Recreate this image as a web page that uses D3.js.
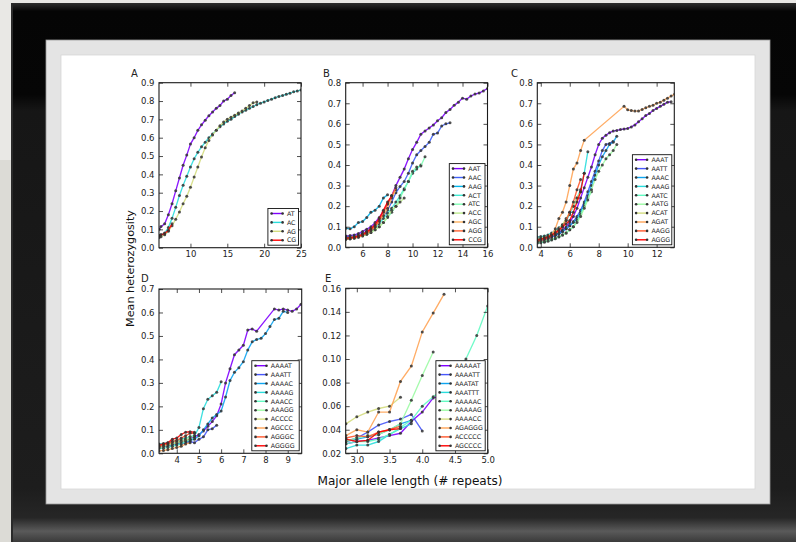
<!DOCTYPE html>
<html><head><meta charset="utf-8">
<script src="https://cdn.jsdelivr.net/npm/d3@7"></script>
<style>
body{margin:0;background:#e8e7e3;}
svg{display:block;font-family:"DejaVu Sans",sans-serif;}
</style>
</head><body>
<svg id="fig" width="796" height="542"></svg>
<script>
// ---- Panel A: dinucleotides ----
const motifsA = ["AT", "AC", "AG", "CG"];
const xA = [5.75, 6, 6.5, 7, 7.5, 8, 8.5, 9, 9.5, 10, 10.5, 11, 11.5, 12, 12.5, 13, 13.5, 14, 14.5, 15,
            15.5, 16, 16.5, 17, 17.5, 18, 18.5, 19, 19.5, 20, 20.5, 21, 21.5, 22, 22.5, 23, 23.5, 24, 24.5, 25];
const yA_AT = [0.10, 0.115, 0.13, 0.18, 0.24, 0.31, 0.38, 0.45, 0.505, 0.565, 0.60, 0.64, 0.67, 0.695, 0.72, 0.74, 0.76, 0.775, 0.80, 0.81, 0.83, 0.845];
const yA_AC = [0.065, 0.07, 0.08, 0.11, 0.16, 0.22, 0.285, 0.34, 0.39, 0.44, 0.485, 0.52, 0.55, 0.575, 0.60, 0.62, 0.64, 0.66, 0.675, 0.69,
               0.70, 0.715, 0.728, 0.74, 0.75, 0.76, 0.77, 0.78, 0.788, 0.795, 0.803, 0.81, 0.818, 0.825, 0.83, 0.837, 0.843, 0.85, 0.855, 0.86];
const yA_AG = [0.055, 0.06, 0.07, 0.09, 0.12, 0.155, 0.195, 0.24, 0.28, 0.33, 0.385, 0.44, 0.495, 0.545, 0.585, 0.615, 0.64, 0.665, 0.685, 0.70,
               0.712, 0.722, 0.735, 0.745, 0.76, 0.775, 0.79, 0.795];
const yA_CG = [0.065, 0.07, 0.078, 0.095, 0.13];
const xTicksA = [10, 15, 20, 25];
const yTicksA = [0, 0.1, 0.2, 0.3, 0.4, 0.5, 0.6, 0.7, 0.8, 0.9];

// ---- Panel B: trinucleotides ----
const motifsB = ["AAT", "AAC", "AAG", "ACT", "ATC", "ACC", "AGC", "AGG", "CCG"];
const xB = [4.667, 5, 5.333, 5.667, 6, 6.333, 6.667, 7, 7.333, 7.667, 8, 8.333, 8.667, 9, 9.333, 9.667, 10, 10.333, 10.667, 11,
            11.333, 11.667, 12, 12.333, 12.667, 13, 13.333, 13.667, 14, 14.333, 14.667, 15, 15.333, 15.667, 16];
const yB_AAT = [0.055, 0.057, 0.06, 0.067, 0.077, 0.088, 0.10, 0.12, 0.145, 0.175, 0.21, 0.25, 0.30, 0.34, 0.38, 0.43, 0.475, 0.51, 0.55, 0.565,
                0.58, 0.595, 0.615, 0.63, 0.655, 0.67, 0.69, 0.705, 0.725, 0.72, 0.735, 0.745, 0.75, 0.76, 0.772];
const yB_AAC = [0.05, 0.052, 0.055, 0.06, 0.068, 0.078, 0.09, 0.105, 0.125, 0.15, 0.18, 0.22, 0.265, 0.295, 0.32, 0.36, 0.41, 0.45, 0.47, 0.49,
                0.51, 0.55, 0.555, 0.59, 0.60, 0.605];
const yB_AAG = [0.092, 0.09, 0.10, 0.12, 0.125, 0.145, 0.17, 0.18, 0.20, 0.24, 0.255];
const yB_ACT = [0.045, 0.047, 0.05, 0.055, 0.062, 0.07, 0.08, 0.095, 0.115, 0.14, 0.165, 0.19, 0.22, 0.25, 0.285, 0.32, 0.36, 0.38, 0.40];
const yB_ATC = [0.04, 0.042, 0.045, 0.05, 0.056, 0.063, 0.072, 0.085, 0.10, 0.12, 0.145, 0.17, 0.20, 0.24, 0.28, 0.32, 0.37, 0.39, 0.395, 0.44];
const yB_ACC = [0.04, 0.042, 0.045, 0.05, 0.055, 0.063, 0.072, 0.085, 0.10, 0.12, 0.15, 0.18, 0.20, 0.22, 0.24];
const yB_AGC = [0.045, 0.047, 0.05, 0.055, 0.062, 0.072, 0.085, 0.10, 0.125, 0.155, 0.19, 0.24, 0.28];
const yB_AGG = [0.04, 0.042, 0.045, 0.05, 0.058, 0.068, 0.082, 0.10, 0.13, 0.17, 0.21, 0.25, 0.29];
const yB_CCG = [0.045, 0.047, 0.05, 0.055, 0.063, 0.075, 0.09, 0.11, 0.14, 0.18, 0.22, 0.25];
const xTicksB = [6, 8, 10, 12, 14, 16];
const yTicksB = [0, 0.1, 0.2, 0.3, 0.4, 0.5, 0.6, 0.7, 0.8];

// ---- Panel C: tetranucleotides ----
const motifsC = ["AAAT", "AATT", "AAAC", "AAAG", "AATC", "AATG", "ACAT", "AGAT", "AAGG", "AGGG"];
const xC = [3.75, 4, 4.25, 4.5, 4.75, 5, 5.25, 5.5, 5.75, 6, 6.25, 6.5, 6.75, 7, 7.25, 7.5, 7.75, 8, 8.25, 8.5,
            8.75, 9, 9.25, 9.5, 9.75, 10, 10.25, 10.5, 10.75, 11, 11.25, 11.5, 11.75, 12, 12.25, 12.5, 12.75, 13, 13.25];
const yC_AAAT = [0.03, 0.032, 0.038, 0.045, 0.052, 0.06, 0.07, 0.085, 0.10, 0.12, 0.15, 0.19, 0.24, 0.29, 0.34, 0.39, 0.45, 0.50, 0.53, 0.545,
                 0.557, 0.565, 0.568, 0.572, 0.575, 0.578, 0.585, 0.595, 0.61, 0.625, 0.64, 0.65, 0.665, 0.675, 0.685, 0.695, 0.705, 0.707];
const yC_AATT = [0.035, 0.037, 0.04, 0.045, 0.05, 0.057, 0.065, 0.075, 0.09, 0.105, 0.125, 0.15, 0.18, 0.22, 0.27, 0.32, 0.37, 0.42, 0.47, 0.50, 0.505, 0.515];
const yC_AAAC = [0.04, 0.042, 0.045, 0.05, 0.055, 0.06, 0.068, 0.078, 0.09, 0.105, 0.12, 0.14, 0.17, 0.21, 0.25, 0.30, 0.35, 0.40, 0.44, 0.47, 0.50, 0.51, 0.54];
const yC_AAAG = [0.05, 0.052, 0.055, 0.06, 0.07, 0.08, 0.095, 0.11, 0.13, 0.16, 0.20, 0.24, 0.28, 0.36, 0.465];
const yC_AATC = [0.02, 0.022, 0.025, 0.03, 0.035, 0.042, 0.05, 0.06, 0.07, 0.085, 0.10, 0.13, 0.16, 0.20, 0.24, 0.27];
const yC_AATG = [0.025, 0.028, 0.03, 0.035, 0.04, 0.045, 0.052, 0.06, 0.07, 0.085, 0.10, 0.12, 0.15, 0.19, 0.23, 0.28, 0.33, 0.37, 0.40, 0.43, 0.45, 0.47, 0.50];
const yC_ACAT = [0.04, 0.045, 0.05, 0.055, 0.065, 0.075, 0.09, 0.11, 0.14, 0.17, 0.20, 0.24, 0.27];
const yC_AGAT = [0.03, 0.035, 0.04, 0.05, 0.06, 0.09, 0.14, 0.17, 0.22, 0.30, 0.38, 0.41, 0.47, 0.52,
                 null, null, null, null, null, null, null, null, null, null,
                 0.685, 0.668, 0.665, 0.662, 0.662, 0.67, 0.678, 0.685, 0.69, 0.70, 0.705, 0.715, 0.725, 0.735, 0.745];
const yC_AAGG = [0.03, 0.035, 0.04, 0.045, 0.055, 0.065, 0.08, 0.10, 0.13, 0.17, 0.22, 0.28, 0.33];
const yC_AGGG = [0.035, 0.04, 0.045, 0.05, 0.06, 0.07, 0.085, 0.10, 0.115, 0.13, 0.17, 0.22, 0.27, 0.36];
const xTicksC = [4, 6, 8, 10, 12];
const yTicksC = [0, 0.1, 0.2, 0.3, 0.4, 0.5, 0.6, 0.7, 0.8];

// ---- Panel D: pentanucleotides ----
const motifsD = ["AAAAT", "AAATT", "AAAAC", "AAAAG", "AAACC", "AAAGG", "ACCCC", "AGCCC", "AGGGC", "AGGGG"];
const xD = [3.2, 3.4, 3.6, 3.8, 4, 4.2, 4.4, 4.6, 4.8, 5, 5.2, 5.4, 5.6, 5.8, 6, 6.2, 6.4, 6.6, 6.8, 7,
            7.2, 7.4, 7.6, 7.8, 8, 8.2, 8.4, 8.6, 8.8, 9, 9.2, 9.4, 9.6];
const yD_AAAAT = [0.03, 0.032, 0.035, 0.04, 0.045, 0.05, 0.055, 0.06, 0.07, 0.08, 0.095, 0.115, 0.135, 0.16, 0.21, 0.30, 0.36, 0.42, 0.44, 0.46,
                  0.525, 0.53, 0.52, null, null, null, 0.615, 0.61, 0.615, 0.61, 0.605, 0.615, 0.635];
const yD_AAATT = [0.025, 0.028, 0.03, 0.033, 0.037, 0.04, 0.045, 0.05, 0.045, 0.06, 0.07, 0.10, 0.105, 0.12];
const yD_AAAAC = [0.03, 0.032, 0.035, 0.038, 0.042, 0.046, 0.05, 0.055, 0.06, 0.075, 0.10, 0.125, 0.15, 0.165, 0.18, 0.24, 0.31, 0.345, 0.365, 0.39,
                  0.44, 0.475, 0.485, 0.49, 0.51, 0.54, 0.57, 0.575, 0.605, 0.60];
const yD_AAAAG = [0.04, 0.042, 0.045, 0.05, 0.055, 0.06, 0.065, 0.07, 0.075, 0.11, 0.19, 0.23, 0.245, 0.26, 0.305];
const yD_AAACC = [0.02, 0.022, 0.025, 0.03, 0.035, 0.04, 0.05, 0.06, 0.065];
const yD_AAAGG = [0.03, 0.035, 0.04, 0.045, 0.05, 0.055, 0.06, 0.07, 0.075];
const yD_ACCCC = [0.025, 0.03, 0.035, 0.04, 0.045, 0.05, 0.055, 0.06];
const yD_AGCCC = [0.01, 0.012, 0.015, 0.02, 0.025, 0.03, 0.04, 0.045];
const yD_AGGGC = [0.03, 0.035, 0.04, 0.05, 0.055, 0.065, 0.075, 0.085, 0.085];
const yD_AGGGG = [0.035, 0.04, 0.045, 0.06, 0.065, 0.08, 0.09, 0.092, 0.09];
const xTicksD = [4, 5, 6, 7, 8, 9];
const yTicksD = [0, 0.1, 0.2, 0.3, 0.4, 0.5, 0.6, 0.7];

// ---- Panel E: hexanucleotides ----
const motifsE = ["AAAAAT", "AAAATT", "AAATAT", "AAATTT", "AAAAAC", "AAAAAG", "AAAACC", "AGAGGG", "ACCCCC", "AGCCCC"];
const xE = [2.833, 3, 3.167, 3.333, 3.5, 3.667, 3.833, 4, 4.167, 4.333, 4.5, 4.667, 4.833, 5];
const yE_AAAAAT = [0.028, 0.03, 0.031, 0.033, 0.035, 0.037, 0.047, 0.055, 0.067, 0.069];
const yE_AAAATT = [0.03, 0.033, 0.038, 0.044, 0.047, 0.049, 0.053, 0.039];
const yE_AAATAT = [0.03, 0.032, 0.034, 0.036, 0.04, 0.045, 0.048];
const yE_AAATTT = [0.024, 0.027, 0.027, 0.03, 0.036, 0.041, 0.045];
const yE_AAAAAC = [0.028, 0.03, 0.03, 0.032, 0.036, 0.042, 0.048, 0.06, 0.068, 0.075, 0.085, 0.10, 0.12, 0.145];
const yE_AAAAAG = [0.03, 0.033, 0.035, 0.036, 0.04, 0.045, 0.065, 0.086, 0.106];
const yE_AAAACC = [0.045, 0.051, 0.055, 0.058, 0.06, 0.0675];
const yE_AGAGGG = [0.035, 0.04, 0.038, 0.055, 0.055, 0.081, 0.094, 0.123, 0.139, 0.155];
const yE_ACCCCC = [0.033, 0.035, 0.034, 0.038, 0.04, 0.043];
const yE_AGCCCC = [0.032, 0.03, 0.031, 0.038, 0.04, 0.041];
const xTicksE = [3.0, 3.5, 4.0, 4.5, 5.0];
const yTicksE = [0.02, 0.04, 0.06, 0.08, 0.10, 0.12, 0.14, 0.16];

// matplotlib "rainbow" colormap
function rainbow(t) {
  const r = Math.min(1, Math.abs(2 * t - 0.5));
  const g = Math.sin(Math.PI * t);
  const b = Math.max(0, Math.cos(Math.PI * t / 2));
  return d3.rgb(r * 255, g * 255, b * 255).formatHex();
}

const svg = d3.select("#fig");
const defs = svg.append("defs");

// ---- picture frame and mat ----
svg.append("rect").attr("x", 0).attr("y", 0).attr("width", 796).attr("height", 542).attr("fill", "#e9e8e5");
svg.append("rect").attr("x", 0).attr("y", 160).attr("width", 11).attr("height", 382).attr("fill", "#dcdbd6");
const gFrame = defs.append("linearGradient").attr("id", "frameV").attr("x1", 0).attr("y1", 0).attr("x2", 0).attr("y2", 1);
[[0, "#2e2e2e"], [0.015, "#050505"], [0.17, "#060606"], [0.2, "#161616"], [0.9, "#1d1d1d"], [0.955, "#262626"], [0.98, "#5a5a5a"], [1, "#3a3a3a"]]
  .forEach(([o, c]) => gFrame.append("stop").attr("offset", o).attr("stop-color", c));
svg.append("rect").attr("x", 11).attr("y", 3).attr("width", 785).attr("height", 539).attr("fill", "url(#frameV)");
svg.append("rect").attr("x", 11).attr("y", 3).attr("width", 2).attr("height", 539).attr("fill", "#2a2a2a");
// mat
svg.append("rect").attr("x", 46).attr("y", 40).attr("width", 724).attr("height", 464)
  .attr("fill", "#e4e4e4").attr("stroke", "#9a9a9a").attr("stroke-width", 0.8);
svg.append("rect").attr("x", 61).attr("y", 55).attr("width", 694).attr("height", 434)
  .attr("fill", "#ffffff").attr("stroke", "#d6d6d6").attr("stroke-width", 0.8);

// ---- panels ----
const panels = [
  { label: "A", labelX: 131, labelY: 77, left: 159, right: 301, top: 82.7, bottom: 247.7,
    xDomain: [5.73, 25], yDomain: [0, 0.9], xTicks: xTicksA, yTicks: yTicksA, xFmt: "d", yFmt: ".1f",
    x: xA, motifs: motifsA, ys: [yA_AT, yA_AC, yA_AG, yA_CG], legendW: 30.6 },
  { label: "B", labelX: 323, labelY: 77, left: 345.7, right: 487.5, top: 82.7, bottom: 247.3,
    xDomain: [4.65, 16], yDomain: [0, 0.8], xTicks: xTicksB, yTicks: yTicksB, xFmt: "d", yFmt: ".1f",
    x: xB, motifs: motifsB, ys: [yB_AAT, yB_AAC, yB_AAG, yB_ACT, yB_ATC, yB_ACC, yB_AGC, yB_AGG, yB_CCG], legendW: 35.7 },
  { label: "C", labelX: 511, labelY: 77, left: 537.3, right: 674.3, top: 82.7, bottom: 247.3,
    xDomain: [3.76, 13.22], yDomain: [0, 0.8], xTicks: xTicksC, yTicks: yTicksC, xFmt: "d", yFmt: ".1f",
    x: xC, motifs: motifsC, ys: [yC_AAAT, yC_AATT, yC_AAAC, yC_AAAG, yC_AATC, yC_AATG, yC_ACAT, yC_AGAT, yC_AAGG, yC_AGGG], legendW: 39.4 },
  { label: "D", labelX: 141, labelY: 282, left: 159, right: 301.7, top: 289, bottom: 453.3,
    xDomain: [3.2, 9.63], yDomain: [0, 0.7], xTicks: xTicksD, yTicks: yTicksD, xFmt: "d", yFmt: ".1f",
    x: xD, motifs: motifsD, ys: [yD_AAAAT, yD_AAATT, yD_AAAAC, yD_AAAAG, yD_AAACC, yD_AAAGG, yD_ACCCC, yD_AGCCC, yD_AGGGC, yD_AGGGG], legendW: 47.4 },
  { label: "E", labelX: 325, labelY: 282, left: 345.7, right: 487.7, top: 288.3, bottom: 453.3,
    xDomain: [2.83, 5.0], yDomain: [0.02, 0.16], xTicks: xTicksE, yTicks: yTicksE, xFmt: ".1f", yFmt: ".2f",
    x: xE, motifs: motifsE, ys: [yE_AAAAAT, yE_AAAATT, yE_AAATAT, yE_AAATTT, yE_AAAAAC, yE_AAAAAG, yE_AAAACC, yE_AGAGGG, yE_ACCCCC, yE_AGCCCC], legendW: 49.3 }
];

const TICK_FONT = 8.5, TICK_LEN = 4;

panels.forEach(p => {
  const x = d3.scaleLinear().domain(p.xDomain).range([p.left, p.right]);
  const y = d3.scaleLinear().domain(p.yDomain).range([p.bottom, p.top]);
  const g = svg.append("g");
  const n = p.ys.length;
  const colors = p.ys.map((_, i) => rainbow(n > 1 ? i / (n - 1) : 0));

  defs.append("clipPath").attr("id", "clip" + p.label).append("rect")
    .attr("x", p.left).attr("y", p.top).attr("width", p.right - p.left).attr("height", p.bottom - p.top);
  const plot = g.append("g").attr("clip-path", `url(#clip${p.label})`);

  const line = d3.line().x(d => x(d[0])).y(d => y(d[1]));
  p.ys.forEach((vals, i) => {
    const pts = vals.map((v, j) => [p.x[j], v]).filter(d => d[1] !== null);
    const s = plot.append("g");
    s.append("path").attr("d", line(pts)).attr("fill", "none")
      .attr("stroke", colors[i]).attr("stroke-width", 1.35).attr("stroke-opacity", 0.9);
    s.selectAll("circle").data(pts).join("circle")
      .attr("cx", d => x(d[0])).attr("cy", d => y(d[1])).attr("r", 1.5)
      .attr("fill", "#333").attr("fill-opacity", 0.85);
  });

  // axes: classic inward ticks on all four sides
  const fx = d3.format(p.xFmt), fy = d3.format(p.yFmt);
  const styleAxis = sel => {
    sel.select(".domain").remove();
    sel.selectAll("line").attr("stroke", "#222").attr("stroke-width", 0.8);
    sel.selectAll("text").attr("font-size", TICK_FONT).attr("fill", "#222").attr("font-family", "DejaVu Sans, sans-serif");
  };
  g.append("g").attr("transform", `translate(0,${p.bottom})`)
    .call(d3.axisBottom(x).tickValues(p.xTicks).tickFormat(fx).tickSizeInner(-TICK_LEN).tickSizeOuter(0).tickPadding(3.5))
    .call(styleAxis);
  g.append("g").attr("transform", `translate(0,${p.top})`)
    .call(d3.axisTop(x).tickValues(p.xTicks).tickFormat("").tickSizeInner(-TICK_LEN).tickSizeOuter(0))
    .call(styleAxis);
  g.append("g").attr("transform", `translate(${p.left},0)`)
    .call(d3.axisLeft(y).tickValues(p.yTicks).tickFormat(fy).tickSizeInner(-TICK_LEN).tickSizeOuter(0).tickPadding(4.5))
    .call(styleAxis);
  g.append("g").attr("transform", `translate(${p.right},0)`)
    .call(d3.axisRight(y).tickValues(p.yTicks).tickFormat("").tickSizeInner(-TICK_LEN).tickSizeOuter(0))
    .call(styleAxis);
  g.append("rect").attr("x", p.left).attr("y", p.top).attr("width", p.right - p.left).attr("height", p.bottom - p.top)
    .attr("fill", "none").attr("stroke", "#1a1a1a").attr("stroke-width", 1.1);

  // panel letter
  g.append("text").attr("x", p.labelX).attr("y", p.labelY).attr("font-size", 10).attr("fill", "#222").text(p.label);

  // legend, lower right
  const rowH = 8.9, lw = p.legendW, lh = (n - 1) * rowH + 10;
  const lx = p.right - 2.5 - lw, ly = p.bottom - 2.5 - lh;
  const lg = g.append("g");
  lg.append("rect").attr("x", lx).attr("y", ly).attr("width", lw).attr("height", lh)
    .attr("fill", "#fff").attr("stroke", "#111").attr("stroke-width", 0.9);
  p.motifs.forEach((m, i) => {
    const ry = ly + 5 + i * rowH;
    lg.append("line").attr("x1", lx + 3.7).attr("x2", lx + 14.7).attr("y1", ry).attr("y2", ry)
      .attr("stroke", colors[i]).attr("stroke-width", 1.4);
    [lx + 3.7, lx + 14.7].forEach(cx => lg.append("circle").attr("cx", cx).attr("cy", ry).attr("r", 1.3).attr("fill", "#333"));
    lg.append("text").attr("x", lx + 19).attr("y", ry).attr("dy", "0.35em")
      .attr("font-size", 6.3).attr("fill", "#222").text(m);
  });
});

// shared axis titles
svg.append("text").attr("transform", "translate(134,268.5) rotate(-90)")
  .attr("text-anchor", "middle").attr("font-size", 11).attr("fill", "#111")
  .attr("textLength", 117).attr("lengthAdjust", "spacingAndGlyphs").text("Mean heterozygosity");
svg.append("text").attr("x", 410).attr("y", 485)
  .attr("text-anchor", "middle").attr("font-size", 12).attr("fill", "#111")
  .attr("textLength", 185).attr("lengthAdjust", "spacingAndGlyphs").text("Major allele length (# repeats)");
</script>
</body></html>
